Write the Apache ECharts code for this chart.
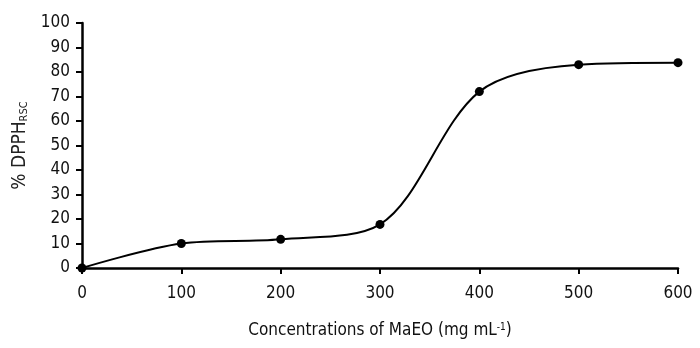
<!DOCTYPE html>
<html>
<head>
<meta charset="utf-8">
<script src="https://cdn.jsdelivr.net/npm/echarts@6/dist/echarts.min.js"></script>
<style>
html, body { margin: 0; padding: 0; background: #fff; }
#main { width: 700px; height: 348px; }
</style>
</head>
<body>
<div id="main"></div>
<script>
var concentrations = [0, 100, 200, 300, 400, 500, 600];
var dpphRsc = [0, 10, 11.7, 17.8, 72, 83, 83.8];
var yTicks = [0, 10, 20, 30, 40, 50, 60, 70, 80, 90, 100];

var font = "'Liberation Sans Narrow', 'DejaVu Sans Condensed', 'Liberation Sans', Arial, sans-serif";
var myChart = echarts.init(document.getElementById("main"));

var seriesData = concentrations.map(function (c, i) {
    return [c, dpphRsc[i]];
});

var option = {
    backgroundColor: "#fff",
    animation: false,
    grid: {
        left: 82,
        right: 22,
        top: 23,
        bottom: 80
    },
    xAxis: {
        type: "value",
        min: 0,
        max: 600,
        interval: 100,
        name: "Concentrations of MaEO (mg mL{sup|-1}{n|)}",
        nameLocation: "middle",
        nameGap: 54,
        nameTextStyle: {
            fontFamily: font,
            fontSize: 17,
            color: "#111",
            rich: {
                sup: { fontFamily: font, fontSize: 10, color: "#111", verticalAlign: "top", padding: [0, 0, 8, 0] },
                n: { fontFamily: font, fontSize: 17, color: "#111" }
            }
        },
        axisLine: { lineStyle: { color: "#000", width: 2.5 } },
        axisTick: { show: true, length: 6, lineStyle: { color: "#000", width: 2 } },
        axisLabel: { fontFamily: font, fontSize: 17, color: "#111", margin: 17 },
        splitLine: { show: false }
    },
    yAxis: {
        type: "value",
        min: 0,
        max: 100,
        interval: 10,
        name: "% DPPH{sub|RSC}",
        nameLocation: "middle",
        nameGap: 50,
        nameRotate: 90,
        nameTextStyle: {
            fontFamily: font,
            fontSize: 19,
            color: "#222",
            rich: {
                sub: { fontFamily: font, fontSize: 11, color: "#222", padding: [9, 0, 0, 0] }
            }
        },
        axisLine: { show: true, lineStyle: { color: "#000", width: 2.5 } },
        axisTick: { show: true, length: 6, lineStyle: { color: "#000", width: 2 } },
        axisLabel: {
            fontFamily: font,
            fontSize: 17,
            color: "#111",
            margin: 12,
            formatter: function (v) {
                return yTicks.indexOf(v) >= 0 ? String(v) : "";
            }
        },
        splitLine: { show: false }
    },
    series: [
        {
            type: "line",
            data: seriesData,
            smooth: 0.32,
            symbol: "circle",
            symbolSize: 9,
            lineStyle: { color: "#000", width: 2 },
            itemStyle: { color: "#000" }
        }
    ]
};

myChart.setOption(option);
</script>
</body>
</html>
